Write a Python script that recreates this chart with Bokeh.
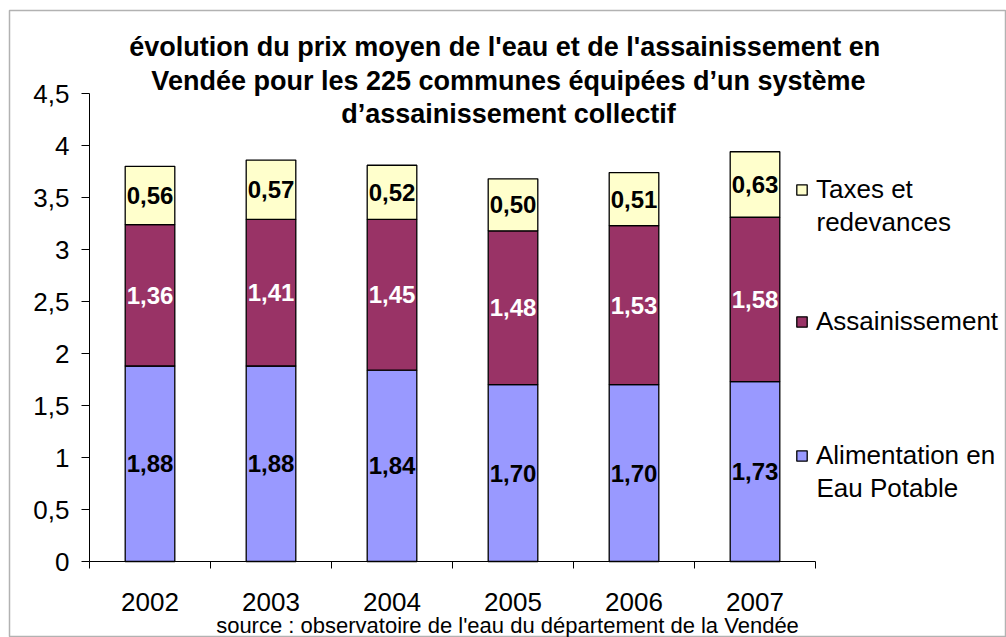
from bokeh.plotting import figure
from bokeh.models import (Range1d, FixedTicker, CustomJSTickFormatter, ColumnDataSource,
                          LabelSet, Label, Legend, LegendItem, BoxAnnotation)
from bokeh.core.properties import value
from bokeh.embed import file_html
from bokeh.resources import INLINE

# ---------------- data ----------------
years = ["2002", "2003", "2004", "2005", "2006", "2007"]
alimentation = [1.88, 1.88, 1.84, 1.70, 1.70, 1.73]
assainissement = [1.36, 1.41, 1.45, 1.48, 1.53, 1.58]
taxes = [0.56, 0.57, 0.52, 0.50, 0.51, 0.63]
series_labels = ["Alimentation en\nEau Potable", "Assainissement", "Taxes et\nredevances"]
y_ticks = [0, 0.5, 1, 1.5, 2, 2.5, 3, 3.5, 4, 4.5]
title_lines = ["évolution du prix  moyen de l'eau et de l'assainissement en",
               "Vendée pour les 225 communes équipées d’un système",
               "d’assainissement collectif"]
source_note = "source : observatoire de l'eau du département de la Vendée"

# ---------------- style / geometry ----------------
FONT = "Liberation Sans"
COLORS = ["#9999FF", "#993366", "#FFFFCC"]
W, H = 1006, 637
X0, XPU = 89, 121      # pixel of x=0 and pixels per category
Y0, YPU = 561, 104     # pixel of y=0 and pixels per unit
YMAX = 4.5
NCAT = len(years)


def data_x(px):
    return (px - X0) / XPU


def data_y(py):
    return (Y0 - py) / YPU


def fmt(v):
    return f"{v:.2f}".replace(".", ",")


p = figure(width=W, height=H, title=None,
           x_range=Range1d(data_x(0), data_x(W)), y_range=Range1d(data_y(H), data_y(0)),
           output_backend="svg", toolbar_location=None,
           min_border_left=0, min_border_right=0, min_border_top=0, min_border_bottom=0)
p.outline_line_color = None
p.xgrid.visible = False
p.ygrid.visible = False
p.background_fill_color = "white"
p.border_fill_color = "white"

xs = [i + 0.5 for i in range(NCAT)]
src = ColumnDataSource(dict(x=xs, alim=alimentation, assain=assainissement, taxes=taxes))
renderers = p.vbar_stack(["alim", "assain", "taxes"], x="x", width=0.41, source=src,
                         fill_color=COLORS, line_color="black", line_width=1.3)

# value labels
alim_mid = [a / 2 for a in alimentation]
assain_mid = [a + s / 2 for a, s in zip(alimentation, assainissement)]
taxes_mid = [a + s + t / 2 for a, s, t in zip(alimentation, assainissement, taxes)]
for vals, mids, col in [(alimentation, alim_mid, "black"),
                        (assainissement, assain_mid, "white"),
                        (taxes, taxes_mid, "black")]:
    ls = LabelSet(x="x", y="y", text="t",
                  source=ColumnDataSource(dict(x=xs, y=mids, t=[fmt(v) for v in vals])),
                  text_align="center", text_baseline="middle",
                  text_font=value(FONT), text_font_style="bold",
                  text_font_size="24px", text_color=col)
    p.add_layout(ls)

# axes (fixed at the data origin so that the frame spans the whole canvas)
xa = p.xaxis[0]
xa.fixed_location = 0
xa.bounds = (0, NCAT)
xa.ticker = FixedTicker(ticks=xs, minor_ticks=list(range(NCAT + 1)))
xa.formatter = CustomJSTickFormatter(args=dict(labels=years),
                                     code="return labels[Math.round(tick - 0.5)];")
xa.major_tick_out = 7
xa.major_tick_in = 0
xa.major_tick_line_color = None
xa.minor_tick_out = 7
xa.minor_tick_in = 0
xa.minor_tick_line_color = "black"
xa.axis_line_color = "black"
xa.major_label_standoff = 24
xa.major_label_text_font = FONT
xa.major_label_text_font_size = "26px"
xa.major_label_text_color = "black"

ya = p.yaxis[0]
ya.fixed_location = 0
ya.bounds = (0, YMAX)
ya.ticker = FixedTicker(ticks=y_ticks)
ya.formatter = CustomJSTickFormatter(code="return String(tick).replace('.', ',');")
ya.major_tick_out = 8
ya.major_tick_in = 0
ya.minor_tick_line_color = None
ya.axis_line_color = "black"
ya.major_tick_line_color = "black"
ya.major_label_standoff = 12
ya.major_label_text_font = FONT
ya.major_label_text_font_size = "26px"
ya.major_label_text_color = "black"

# chart border
p.add_layout(BoxAnnotation(left=data_x(9), right=data_x(1005), top=data_y(10), bottom=data_y(636),
                           fill_alpha=0, line_color="black", line_width=1.5))

# title
for line, py in zip(title_lines, [46, 80, 113]):
    p.add_layout(Label(x=data_x(508), y=data_y(py), text=line,
                       text_align="center", text_baseline="middle",
                       text_font=FONT, text_font_style="bold",
                       text_font_size="27px", text_color="black"))

# source note
p.add_layout(Label(x=data_x(507), y=data_y(625), text=source_note,
                   text_align="center", text_baseline="middle",
                   text_font=FONT, text_font_size="22px", text_color="black"))

# legend: one entry per series, swatch aligned with the first text line,
# any continuation line set directly underneath
LEG_X = 795          # swatch left edge (px)
LEG_TEXT_X = 816     # text left edge (px)
LINE_GAP = 32        # px between legend text lines
legend_first_line_y = {2: 189, 1: 321, 0: 455}   # px centre of first text line
for idx in [2, 1, 0]:
    lines = series_labels[idx].split("\n")
    cy = legend_first_line_y[idx]
    leg = Legend(items=[LegendItem(label=lines[0], renderers=[renderers[idx]])],
                 location=(LEG_X, H - cy - 16), padding=0, margin=0, spacing=0,
                 glyph_width=13, glyph_height=13, label_standoff=8,
                 label_text_font=FONT, label_text_font_size="26px",
                 label_text_color="black",
                 border_line_color=None, background_fill_alpha=0)
    p.add_layout(leg)
    for k, extra in enumerate(lines[1:], start=1):
        p.add_layout(Label(x=data_x(LEG_TEXT_X), y=data_y(cy + k * LINE_GAP), text=extra,
                           text_align="left", text_baseline="middle",
                           text_font=FONT, text_font_size="26px", text_color="black"))

open("out.html", "w").write(file_html(p, INLINE))
